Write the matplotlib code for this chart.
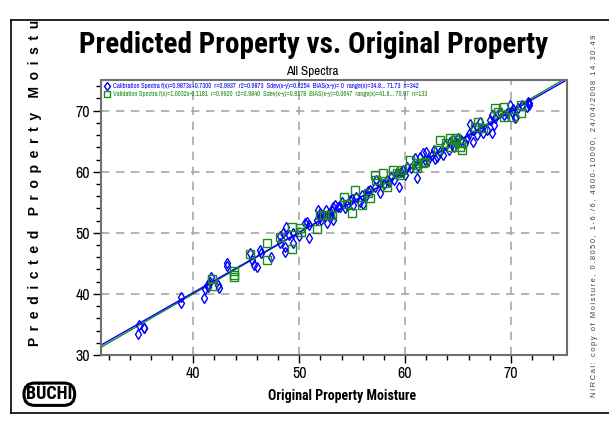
import matplotlib
matplotlib.use("Agg")
import matplotlib.pyplot as plt
from matplotlib.lines import Line2D
import numpy as np

narrow = ['Archivo Narrow', 'Liberation Sans', 'DejaVu Sans']
narrow_bold = ['Roboto Condensed', 'PT Sans Narrow', 'Liberation Sans', 'DejaVu Sans']
plt.rcParams['font.family'] = narrow

# calibration spectra (blue diamonds)
cal_x = [34.8, 34.9, 35.3, 35.35, 38.8, 38.8, 41.0, 41.1, 41.4, 41.6, 41.7, 42.3, 42.4, 41.4,
         43.2, 43.2, 45.35, 45.5, 45.7, 46.0, 46.3, 46.4, 47.3, 48.2, 48.2, 48.45, 48.7, 48.7,
         48.75, 49.4, 49.45, 49.0, 50.0, 50.55, 50.7, 50.9, 50.9, 51.8, 51.95, 52.1, 51.65, 53.2,
         53.4, 53.7, 52.6, 53.1, 53.2, 53.85, 54.3, 54.8, 55.1, 55.4, 55.9, 55.7, 56.05, 56.7,
         57.2, 57.3, 57.6, 57.6, 58.25, 58.7, 59.0, 59.4, 59.8, 60.0, 60.15, 60.6, 60.9, 61.1,
         61.4, 61.7, 62.0, 62.2, 62.5, 62.7, 63.0, 63.3, 63.6, 63.8, 64.1, 64.2, 64.6, 64.9,
         65.0, 65.3, 65.65, 65.8, 66.4, 66.1, 66.4, 66.75, 67.1, 67.2, 67.4, 67.7, 68.0, 68.2,
         68.35, 68.5, 68.2, 69.0, 69.6, 69.9, 70.05, 70.4, 70.5, 70.7, 71.5, 71.6, 71.73, 71.7,
         52.0, 52.2, 52.4, 52.8, 53.0, 52.5, 54.0, 54.5, 55.0, 56.3, 56.5, 58.0, 58.5, 59.2,
         59.6, 61.2, 61.9, 62.8, 64.4, 66.0, 66.8, 69.3, 70.2, 71.0]
cal_y = [33.4, 34.9, 34.5, 34.4, 39.5, 38.5, 39.4, 40.75, 41.7, 42.0, 42.7, 41.5, 40.9, 41.1,
         45.1, 44.6, 46.65, 45.55, 44.7, 44.35, 47.2, 46.65, 46.0, 49.5, 48.4, 49.9, 47.7, 46.9,
         50.9, 48.4, 49.9, 49.6, 49.5, 51.6, 51.7, 51.3, 49.1, 53.7, 52.6, 52.1, 52.1, 54.3,
         54.6, 54.3, 51.6, 53.5, 52.1, 54.3, 54.0, 55.4, 54.6, 55.9, 56.2, 55.1, 54.8, 57.0,
         57.55, 58.65, 56.5, 58.1, 58.65, 59.2, 58.65, 57.55, 60.3, 59.5, 60.8, 60.55, 62.2, 58.9,
         62.45, 63.0, 63.3, 61.9, 62.75, 63.55, 62.45, 63.3, 62.75, 64.4, 63.55, 64.9, 64.1, 64.65,
         65.5, 65.2, 64.65, 65.5, 64.9, 67.9, 66.8, 67.4, 68.2, 67.1, 66.3, 66.8, 68.5, 69.3,
         67.65, 68.75, 66.3, 69.8, 69.6, 70.9, 69.8, 68.75, 69.0, 70.4, 70.65, 71.5, 70.9, 71.2,
         53.2, 53.0, 52.7, 53.3, 52.8, 53.8, 55.0, 54.5, 55.5, 56.0, 56.8, 58.0, 58.3, 59.8,
         60.0, 61.0, 62.0, 62.1, 64.6, 66.2, 66.0, 69.3, 70.3, 71.0]

# validation spectra (green squares)
val_x = [41.8, 41.9, 43.8, 43.85, 43.85, 45.35, 47.0, 47.0, 48.2, 49.3, 49.35, 50.1, 50.2, 51.65,
         51.95, 52.3, 52.9, 53.1, 54.2, 54.5, 55.0, 55.3, 55.9, 56.5, 56.7, 57.2, 57.3, 57.95,
         58.1, 58.25, 58.9, 59.2, 59.5, 59.7, 60.5, 61.0, 61.1, 61.25, 61.7, 61.9, 63.15, 63.3,
         63.9, 64.2, 64.35, 64.7, 64.85, 65.3, 65.4, 65.2, 66.6, 66.9, 67.4, 68.5, 69.3, 68.8,
         69.3, 70.2, 70.97, 70.9]
val_y = [42.5, 41.3, 43.75, 43.1, 42.7, 46.6, 48.4, 45.55, 49.3, 51.0, 47.3, 50.75, 50.1, 50.6,
         52.9, 52.9, 52.9, 52.9, 55.9, 54.8, 53.2, 57.0, 54.6, 56.5, 55.65, 59.5, 58.65, 59.75,
         58.1, 57.55, 60.3, 59.75, 59.5, 60.3, 61.9, 61.1, 60.6, 61.4, 61.4, 61.65, 63.55, 65.2,
         64.65, 65.5, 64.1, 65.2, 65.5, 64.65, 63.55, 64.1, 67.4, 68.2, 67.1, 70.4, 70.65, 69.8,
         69.0, 69.0, 70.9, 69.7]

cal_fit = (0.9873, 0.7300)
val_fit = (1.0032, -0.1181)

cal_label = ("Calibration Spectra f(x)=0.9873x+0.7300  r=0.9937  r2=0.9873  Sdev(x-y)=0.8254  "
             "BIAS(x-y)= 0  range(x)=34.8... 71.73  n=342")
val_label = ("Validation Spectra f(x)=1.0032x-0.1181  r=0.9920  r2=0.9840  Sdev(x-y)=0.8178  "
             "BIAS(x-y)=0.0647  range(x)=41.8... 70.97  n=133")

blue = '#0000ff'
green = '#1a8a1a'
ts = '\u2009'  # thin space for the letter-spaced side texts

fig = plt.figure(figsize=(6.09, 4.23), dpi=100)
ax = fig.add_axes([0.1658, 0.1608, 0.7647, 0.6501])

xlim = (31.28, 75.26)
ax.set_xlim(xlim)
ax.set_ylim(30, 75.03)

xx = np.array(xlim)
ax.plot(xx, val_fit[0] * xx + val_fit[1], color=green, lw=1.0, zorder=2)
ax.plot(xx, cal_fit[0] * xx + cal_fit[1], color=blue, lw=1.0, zorder=2)

ax.plot(cal_x, cal_y, 'd', mfc='none', mec=blue, ms=5.5, mew=1.0, ls='none', label=cal_label, zorder=3)
ax.plot(val_x, val_y, 's', mfc='none', mec=green, ms=5.5, mew=1.0, ls='none', label=val_label, zorder=3)

ax.set_xticks([40, 50, 60, 70])
ax.set_yticks([30, 40, 50, 60, 70])
ax.set_xticks(np.arange(32, 76, 2), minor=True)
ax.set_yticks(np.arange(30, 76, 2), minor=True)
ax.tick_params(which='major', length=6, width=1, direction='out', labelsize=11.5, pad=2)
ax.tick_params(which='minor', length=3.5, width=1, direction='out')
ax.grid(True, which='major', color='#a8a8a8', ls=(0, (5, 4)), lw=1.2)
ax.set_axisbelow(True)
for s in ax.spines.values():
    s.set_color('#707070')
    s.set_linewidth(1.5)

leg = ax.legend(loc='upper left', frameon=False, fontsize=4.8, handletextpad=0.4,
                borderaxespad=0.2, labelspacing=0.35, handlelength=1.0, borderpad=0.25,
                markerscale=0.8, labelcolor=[blue, green])

# texts around the plot
fig.text(0.515, 0.893, "Predicted Property vs. Original Property", ha='center', va='center',
         fontsize=21, fontweight='bold', family=narrow_bold)
fig.text(0.512, 0.83, "All Spectra", ha='center', va='center', fontsize=9.5)
fig.text(0.561, 0.063, "Original Property Moisture", ha='center', va='center',
         fontsize=10, fontweight='bold', family=narrow_bold)

# outer frame (left, top, bottom)
fig.add_artist(Line2D([0.018, 0.018], [0.0236, 0.9527], color='black', lw=1.2))
fig.add_artist(Line2D([0.018, 1.0], [0.9527, 0.9527], color='black', lw=1.2))
fig.add_artist(Line2D([0.018, 1.0], [0.0236, 0.0236], color='black', lw=1.2))

# spaced y label, clipped by the frame like in the original
frame = fig.add_axes([0.018, 0.0236, 0.982, 0.9291])
frame.axis('off')
frame.set_xlim(0, 1)
frame.set_ylim(0, 1)
ylab = ("   " + ts).join((" " + ts).join(w) for w in "Predicted Property Moisture".split())
frame.text(0.040, 0.17, ylab, rotation=90, ha='center', va='bottom', fontsize=10,
           fontweight='bold', family=['Liberation Sans', 'DejaVu Sans'], clip_on=True)

side = "NIRCal: copy of Moisture, 0.8050, 1-6./6, 4600-10000, 24/04/2008 14.30.49"
fig.text(0.976, 0.49, ts.join(side), rotation=90, ha='center', va='center', fontsize=5.5,
         color='#404040', family=['Liberation Sans', 'DejaVu Sans'])

fig.text(0.081, 0.068, "BÜCHI", ha='center', va='center', fontsize=13, fontweight='bold',
         family=narrow_bold,
         bbox=dict(boxstyle='round,pad=0.12,rounding_size=0.6', fc='white', ec='black', lw=2.2))

fig.savefig('out.png', dpi=100)
